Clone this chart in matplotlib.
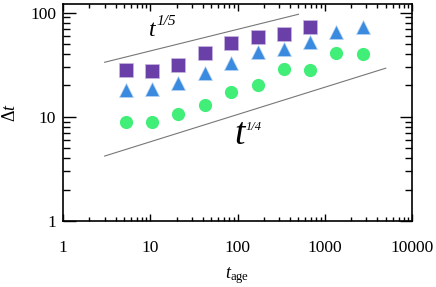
import matplotlib
matplotlib.use("Agg")
import matplotlib.pyplot as plt
from matplotlib.ticker import LogLocator, NullFormatter, FixedLocator, FixedFormatter

plt.rcParams["font.family"] = "Liberation Serif"
plt.rcParams["mathtext.fontset"] = "custom"
plt.rcParams["mathtext.rm"] = "Liberation Serif"
plt.rcParams["mathtext.it"] = "Liberation Serif:italic"

# data
t_sq = [5.3, 10.6, 21, 42, 85, 170, 340, 680]
dt_sq = [28.2, 27.6, 31.5, 40.8, 51.5, 58.8, 62.4, 72.4]
t_tri = [5.3, 10.6, 21, 42, 85, 170, 340, 680, 1360, 2720]
dt_tri = [18.1, 18.5, 21.0, 26.2, 33.1, 42.2, 44.5, 52.0, 65.7, 73.4]
t_circ = [5.3, 10.6, 21, 42, 85, 170, 340, 680, 1360, 2720]
dt_circ = [8.9, 8.9, 10.6, 13.1, 17.4, 20.2, 28.8, 28.2, 41.3, 39.9]

# guide lines (power laws)
guide15_x = [3, 500]
guide15_y = [33.4, 96.5]
guide14_x = [3, 5000]
guide14_y = [4.2, 29.3]

xticks = [1, 10, 100, 1000, 10000]
xlabels = ["1", "10", "100", "1000", "10000"]
yticks = [1, 10, 100]
ylabels = ["1", "10", "100"]

fig = plt.figure(figsize=(4.36, 2.87), dpi=100)
ax = fig.add_axes([0.1445, 0.23, 0.8005, 0.756])

ax.plot(guide15_x, guide15_y, color="#777777", lw=0.8)
ax.plot(guide14_x, guide14_y, color="#777777", lw=0.8)

ax.plot(t_sq, dt_sq, "s", color="#6B3FA8", ms=10, mec="#C8B8E0", mew=0.5, ls="none")
ax.plot(t_tri, dt_tri, "^", color="#3A8BE0", ms=10.5, mec="#B8D4F4", mew=0.5, ls="none")
ax.plot(t_circ, dt_circ, "o", color="#40EE78", ms=9.5, mec="none", ls="none")

# power-law labels: t plus italic exponent
ax.text(10.5, 68, "t", fontsize=17, style="italic", ha="center", va="center")
ax.text(11.9, 82, "1/5", fontsize=11, style="italic", ha="left", va="center")
ax.text(106, 6.7, "t", fontsize=27, style="italic", ha="center", va="center")
ax.text(123, 8.0, "1/4", fontsize=9, style="italic", ha="left", va="center")

ax.set_xscale("log")
ax.set_yscale("log")
ax.set_xlim(1, 10000)
ax.set_ylim(1, 121)

ax.xaxis.set_major_locator(FixedLocator(xticks))
ax.xaxis.set_major_formatter(FixedFormatter(xlabels))
ax.yaxis.set_major_locator(FixedLocator(yticks))
ax.yaxis.set_major_formatter(FixedFormatter(ylabels))
ax.xaxis.set_minor_locator(LogLocator(base=10, subs=range(2, 10)))
ax.yaxis.set_minor_locator(LogLocator(base=10, subs=range(2, 10)))
ax.xaxis.set_minor_formatter(NullFormatter())
ax.yaxis.set_minor_formatter(NullFormatter())

ax.tick_params(axis="x", which="major", direction="in", top=True, length=5, width=1,
               labelsize=12.5, pad=14)
ax.tick_params(axis="x", which="minor", direction="in", top=True, length=3, width=1)
ax.tick_params(axis="y", which="major", direction="in", right=True, length=9, width=1,
               labelsize=12.5, pad=5)
ax.tick_params(axis="y", which="minor", direction="in", right=True, length=5, width=1)
for s in ax.spines.values():
    s.set_linewidth(1.2)

ax.set_xlabel(r"$t_{\mathrm{age}}$", fontsize=13, labelpad=6)
ax.set_ylabel(r"$\Delta t$", fontsize=13, labelpad=8)

fig.savefig("out.png", dpi=100)
